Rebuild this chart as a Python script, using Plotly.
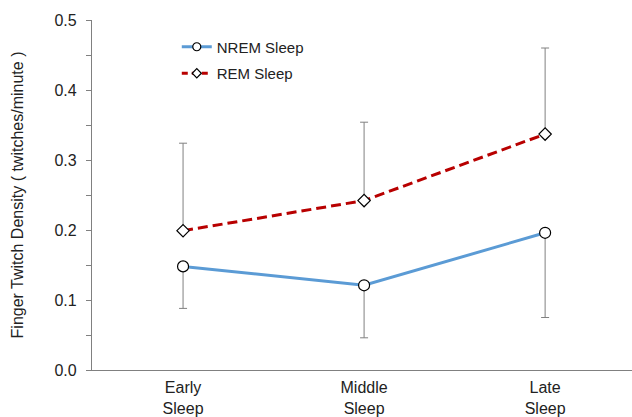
import plotly.graph_objects as go

categories = ["Early<br>Sleep", "Middle<br>Sleep", "Late<br>Sleep"]
nrem = [0.148, 0.121, 0.196]
nrem_err_minus = [0.060, 0.075, 0.121]
rem = [0.199, 0.242, 0.337]
rem_err_plus = [0.125, 0.112, 0.123]
zeros = [0, 0, 0]

blue = "#5B9BD5"
red = "#B80000"
font = "Arial, Liberation Sans, sans-serif"
fig = go.Figure()
fig.add_trace(go.Scatter(
    x=categories, y=nrem, name="NREM Sleep", mode="lines+markers", showlegend=False,
    line=dict(color=blue, width=3),
    marker=dict(symbol="circle", size=11, color="white", line=dict(color="black", width=1.2)),
    error_y=dict(type="data", symmetric=False, array=zeros, arrayminus=nrem_err_minus,
                 color="#808080", thickness=1, width=4),
))
fig.add_trace(go.Scatter(
    x=categories, y=rem, name="REM Sleep", mode="lines+markers", showlegend=False,
    line=dict(color=red, width=3, dash="10px,5px"),
    marker=dict(symbol="diamond", size=9.5, color="white", line=dict(color="black", width=1.2)),
    error_y=dict(type="data", symmetric=False, array=rem_err_plus, arrayminus=zeros,
                 color="#808080", thickness=1, width=4),
))
# legend entries with smaller symbols
fig.add_trace(go.Scatter(
    x=[None], y=[None], name="NREM Sleep", mode="lines+markers", legendgroup="a",
    line=dict(color=blue, width=3),
    marker=dict(symbol="circle", size=8, color="white", line=dict(color="black", width=1.2)),
))
fig.add_trace(go.Scatter(
    x=[None], y=[None], name="REM Sleep", mode="lines+markers", legendgroup="b",
    line=dict(color=red, width=3, dash="6px,4px"),
    marker=dict(symbol="diamond", size=7, color="white", line=dict(color="black", width=1.2)),
))
fig.update_layout(
    width=632, height=417,
    margin=dict(l=92, r=0, t=20, b=47),
    paper_bgcolor="white", plot_bgcolor="white",
    font=dict(family=font, size=16, color="#222"),
    showlegend=True,
    legend=dict(x=0.157, y=0.97, xanchor="left", yanchor="top", bgcolor="rgba(0,0,0,0)",
                font=dict(size=15), tracegroupgap=4, itemsizing="trace"),
)
fig.update_xaxes(
    range=[-0.503, 2.48], showline=True, linecolor="#808080", linewidth=1.2,
    showgrid=False, ticks="", tickfont=dict(size=16), zeroline=False, automargin=False,
    ticklabelstandoff=3,
)
fig.update_yaxes(
    range=[0, 0.5], tickvals=[0, 0.1, 0.2, 0.3, 0.4, 0.5],
    ticktext=["0.0", "0.1", "0.2", "0.3", "0.4", "0.5"],
    showline=True, linecolor="#808080", linewidth=1.2, showgrid=False, zeroline=False,
    ticks="outside", ticklen=5, tickcolor="#808080", automargin=False,
    minor=dict(dtick=0.05, ticks="outside", ticklen=5, tickcolor="#808080"),
    tickfont=dict(size=16), ticklabelstandoff=6,
    title=dict(text="Finger Twitch Density ( twitches/minute )", font=dict(size=16), standoff=26),
)
fig.write_html("out.html", config={"displayModeBar": False},
               post_script="document.body.style.margin='0px';")
